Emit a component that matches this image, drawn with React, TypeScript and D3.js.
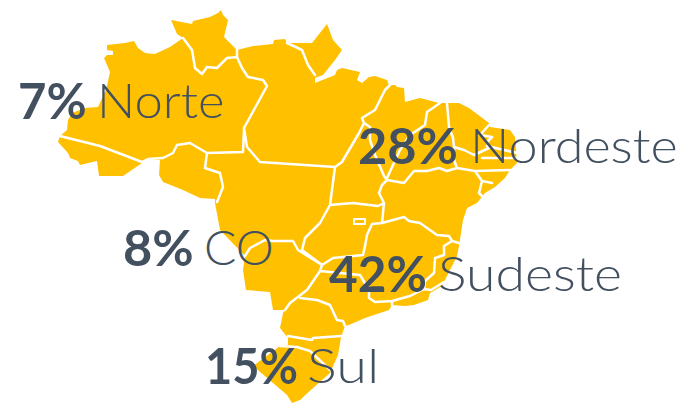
import React from "react";
import * as d3 from "d3";

// Regional shares, as labelled on the map
const regions = ["Norte", "Nordeste", "CO", "Sudeste", "Sul"];
const shares = [7, 28, 8, 42, 15];

// Map units (x east, y south)
const outline = [
  [107,45],[125,43],[134,41],[138,48],[145,53],[155,54],[170,47],[183,38],[177,34],[171,20],[192,24],[193,21],[210,17],[218,13],[221,10],[223,15],[228,20],[224,37],[230,43],[237,50],
  [253,46],[273,44],[274,40],[285,39],[287,43],[312,43],[327,24],[333,40],[342,50],[335,60],[323,75],[315,78],[315,83],[335,75],[337,70],[342,68],
  [360,72],[357,80],[362,83],[369,77],[375,76],[387,80],[389,85],[395,85],[397,87],[404,88],[405,102],[420,98],[439,103],[459,103],[469,108],[489,123],[490,127],[510,130],[515,137],[517,163],
  [510,170],[505,178],[495,187],[485,193],[477,203],[467,208],[463,220],[459,246],[457,256],[442,286],[430,293],[428,300],[414,305],[405,306],[392,305],[389,310],[365,318],[349,325],[345,326],
  [341,337],[338,355],[330,373],[313,388],[300,400],[292,403],[287,395],[253,366],[280,346],[288,345],[288,338],[280,328],[283,313],[285,310],
  [273,310],[270,292],[246,290],[243,270],[245,256],[220,230],[215,203],[215,199],[200,198],[183,190],[163,182],[159,175],[160,160],
  [148,160],[142,163],[123,176],[99,176],[97,161],[80,165],[78,161],[70,158],[68,153],[58,142],[60,136],[67,130],[68,120],[72,113],[85,108],[98,107],[106,90],[110,72],[104,58],[107,55],[113,55],[113,51],[107,50],
];

const borders = [
  // north
  [[183,38],[192,50],[195,68],[202,74],[207,67],[217,68],[227,58],[237,57],[237,50]],
  [[237,57],[242,68],[248,77],[263,80],[267,86],[244,128],[243,152],[207,153],[190,143],[177,145],[173,153],[163,158],[148,159],[142,162],[100,146],[60,136]],
  [[207,153],[205,168],[220,173],[223,187],[217,202]],
  [[244,128],[247,147],[260,162],[335,167],[342,162],[359,133],[364,123],[362,118],[375,110],[385,90],[390,85]],
  [[287,43],[302,50],[308,65],[315,75]],
  // tocantins, goias
  [[335,167],[330,205],[320,223],[305,238],[302,250],[322,265]],
  [[330,205],[353,203],[378,206],[384,203]],
  [[364,123],[370,127],[370,140],[375,155],[384,176],[387,180],[382,185],[379,193],[384,203],[382,223],[372,224],[367,235],[365,246],[363,255],[333,258],[322,265],[320,271],[307,290],[290,303],[285,310]],
  // northeast
  [[440,103],[427,112],[425,125],[410,135],[400,150],[387,178]],
  [[387,180],[404,183],[414,171],[427,171],[439,168],[447,171],[457,168],[475,171],[482,181],[479,193],[482,196]],
  [[475,171],[510,170]],
  [[482,181],[492,183]],
  [[447,103],[449,127],[453,138],[454,147],[454,160],[457,168]],
  [[454,147],[464,150],[474,155],[489,148],[487,142],[492,137],[480,135],[489,125]],
  [[487,146],[517,153]],
  [[482,158],[517,158]],
  // southeast, south
  [[382,223],[404,217],[409,221],[420,223],[437,235],[449,236],[452,241],[444,246],[444,255],[435,258],[434,273],[425,281],[424,289],[431,290],[444,282]],
  [[452,241],[459,243]],
  [[424,289],[410,296],[392,301],[392,305]],
  [[392,301],[375,302],[369,298],[369,290],[360,275],[320,271]],
  [[300,298],[317,300],[330,305],[337,320],[343,321],[345,326]],
  [[288,336],[312,340],[313,338],[341,336]],
  [[280,346],[297,347],[310,351],[330,370]],
  // mato grosso do sul
  [[322,265],[298,250],[293,241],[273,241],[265,240],[250,248],[245,256]],
];

const federalDistrict = [[354,219],[365,219],[365,224],[354,224]];

// Label anchors, same order as regions
const shareX = [18, 358, 123, 329, 205];
const shareStretch = [0.98, 1.01, 1.01, 0.99, 0.94];
const nameX = [97, 470, 204, 438, 307];
const nameStretch = [1.08, 1.11, 1.02, 1.14, 1.19];
const baselines = [118, 163, 265, 291, 383];

const path = d3.geoPath(d3.geoIdentity());
const closed = (ring: number[][]) => [...ring, ring[0]];

const inkColor = "#435060";

export default function App() {
  const land = path({ type: "Polygon", coordinates: [closed(outline)] } as any) ?? "";
  const lines = path({ type: "MultiLineString", coordinates: borders } as any) ?? "";
  const df = path({ type: "Polygon", coordinates: [closed(federalDistrict)] } as any) ?? "";

  return (
    <svg
      width={684}
      height={406}
      viewBox="0 0 684 406"
      style={{ position: "absolute", left: 0, top: 0, background: "#fff" }}
    >
      <path d={land} fill="#ffc000" />
      <path d={lines} fill="none" stroke="#fff" strokeWidth={2.5} strokeLinejoin="round" strokeLinecap="round" />
      <path d={df} fill="#ffc000" stroke="#fff" strokeWidth={1.8} />
      {regions.map((name, i) => (
        <g key={name} fontFamily="Lato, sans-serif" fill={inkColor}>
          <text
            transform={`translate(${shareX[i]},${baselines[i] + 1}) scale(${shareStretch[i]},1)`}
            fontSize={50}
            fontWeight={700}
          >
            {shares[i]}%
          </text>
          <text
            transform={`translate(${nameX[i]},${baselines[i]}) scale(${nameStretch[i]},1)`}
            fontSize={47}
            fontWeight={300}
          >
            {name}
          </text>
        </g>
      ))}
    </svg>
  );
}
